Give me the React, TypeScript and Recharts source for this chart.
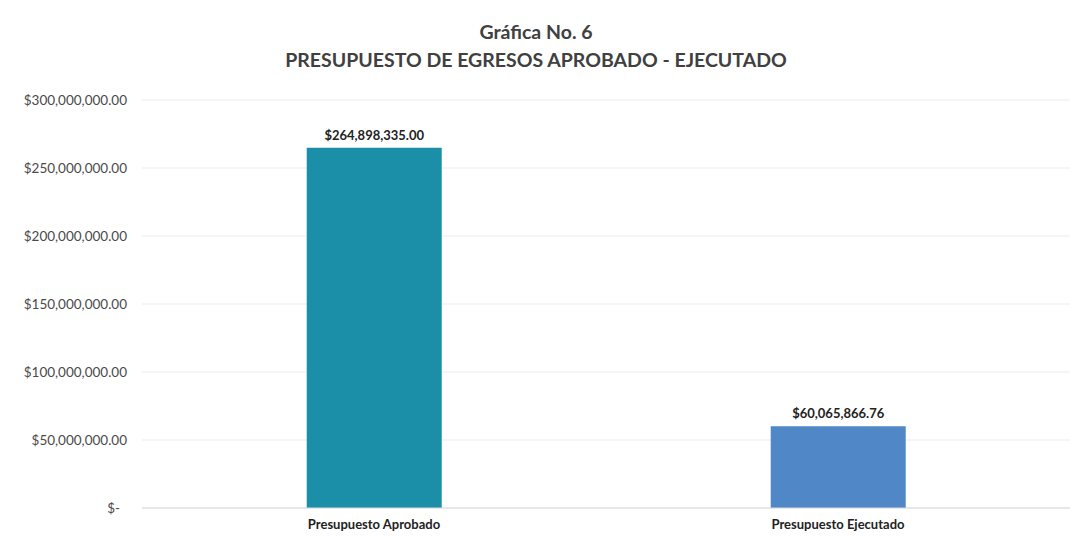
import React from "react";
import { Bar, BarChart, CartesianGrid, Cell, LabelList, XAxis, YAxis } from "recharts";

const CATEGORIES = ["Presupuesto Aprobado", "Presupuesto Ejecutado"];
const AMOUNTS = [264898335.0, 60065866.76];
const Y_TICKS = [0, 50000000, 100000000, 150000000, 200000000, 250000000, 300000000];
const COLORS = ["#1a8fa7", "#5087c7"];

const FONT = "Lato, 'Open Sans', sans-serif";

const data = CATEGORIES.map((name, i) => ({ name, amount: AMOUNTS[i] }));

function money(v: number) {
  if (v === 0) return "$-";
  return "$" + v.toLocaleString("en-US", { minimumFractionDigits: 2, maximumFractionDigits: 2 });
}

function YTick(props: any) {
  const { x, y, payload } = props;
  const zero = payload.value === 0;
  return (
    <text
      x={x - (zero ? 14 : 7)}
      y={y}
      dy="0.35em"
      textAnchor="end"
      fill="#4a4a4a"
      fontSize={13.5}
      fontFamily={FONT}
    >
      {money(payload.value)}
    </text>
  );
}

export default function App() {
  return (
    <div style={{ position: "absolute", left: 0, top: 0, width: 1072, height: 540, background: "#fff" }}>
      <div
        style={{
          position: "absolute",
          left: 0,
          top: 18,
          width: 1072,
          textAlign: "center",
          fontFamily: FONT,
          color: "#404040",
          fontWeight: 700,
          fontSize: 19.5,
          lineHeight: "28px"
        }}
      >
        <div>Gráfica No. 6</div>
        <div>PRESUPUESTO DE EGRESOS APROBADO - EJECUTADO</div>
      </div>
      <BarChart
        width={1072}
        height={540}
        data={data}
        margin={{ top: 100, right: 2, bottom: 2, left: 0 }}
        barCategoryGap="35.5%"
      >
        <CartesianGrid stroke="#ececec" vertical={false} />
        <XAxis
          dataKey="name"
          axisLine={{ stroke: "#d9d9d9" }}
          tickLine={false}
          tickMargin={6}
          height={30}
          tick={{ fill: "#222", fontSize: 13, fontFamily: FONT, fontWeight: 700 }}
        />
        <YAxis
          width={142}
          domain={[0, 300000000]}
          ticks={Y_TICKS}
          axisLine={false}
          tickLine={false}
          tick={<YTick />}
        />
        <Bar dataKey="amount" isAnimationActive={false}>
          {data.map((d, i) => (
            <Cell key={d.name} fill={COLORS[i]} />
          ))}
          <LabelList
            dataKey="amount"
            position="top"
            offset={8}
            formatter={(v: any) => money(Number(v))}
            style={{ fill: "#222", fontSize: 13, fontFamily: FONT, fontWeight: 700 }}
          />
        </Bar>
      </BarChart>
    </div>
  );
}
